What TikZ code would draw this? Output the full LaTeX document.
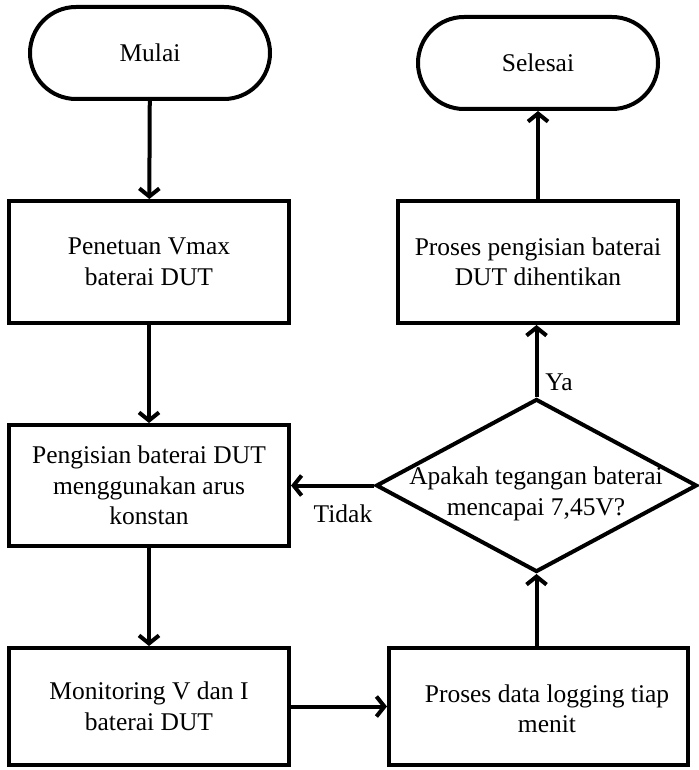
\documentclass[tikz,border=0pt]{standalone}
\usepackage{fontspec}
\setmainfont{Liberation Serif}
\usetikzlibrary{shapes.geometric,shapes.misc,arrows.meta}
\begin{document}
\begin{tikzpicture}[x=1pt,y=-1pt,
  every node/.style={font=\fontsize{25.5}{30.5}\selectfont},
  proc/.style={draw, line width=4pt, rectangle, minimum width=#1, inner sep=0pt, align=center},
  term/.style={draw, line width=4pt, rounded rectangle, minimum width=240pt, minimum height=92pt, inner sep=0pt},
  dec/.style={draw, line width=4pt, diamond, minimum width=321pt, minimum height=173pt, inner sep=0pt},
  arr/.style={line width=4pt, -{Straight Barb[length=8pt,width=20pt]}},
  lbl/.style={inner sep=0pt},
]
\useasboundingbox (0,0) rectangle (698,770);
\node[term] (mulai) at (150,53) {Mulai};
\node[term] (selesai) at (538,63) {Selesai};
\node[proc=280pt, minimum height=122pt] (pen) at (149,262) {Penetuan Vmax\\baterai DUT};
\node[proc=280pt, minimum height=122pt] (stop) at (538,262) {Proses pengisian baterai\\DUT dihentikan};
\node[proc=280pt, minimum height=121pt] (isi) at (149,485.5) {Pengisian baterai DUT\\menggunakan arus\\konstan};
\node[proc=280pt, minimum height=117pt] (mon) at (149,706.5) {Monitoring V dan I\\baterai DUT};
\node[proc=299pt, minimum height=117pt] (log) at (538.5,706.5) {};
\node[lbl, align=center] (logtxt) at (547,709) {Proses data logging tiap\\menit};
\node[dec] (cek) at (536.5,485.5) {};
\node[lbl, align=center] (cektxt) at (536,494) {Apakah tegangan baterai\\mencapai 7,45V?};
\node[lbl] (tidak) at (343,514) {Tidak};
\node[lbl] (ya) at (559,382) {Ya};
\draw[arr] (mulai) -- (pen);
\draw[arr] (pen) -- (isi);
\draw[arr] (isi) -- (mon);
\draw[arr] (mon) -- (log);
\draw[arr] (log.north -| cek.south) -- (cek.south);
\draw[arr] (cek.north) -- (stop.south -| cek.north);
\draw[arr] (stop) -- (selesai);
\draw[arr] (cek.west) -- (isi.east |- cek.west);
\end{tikzpicture}
\end{document}
